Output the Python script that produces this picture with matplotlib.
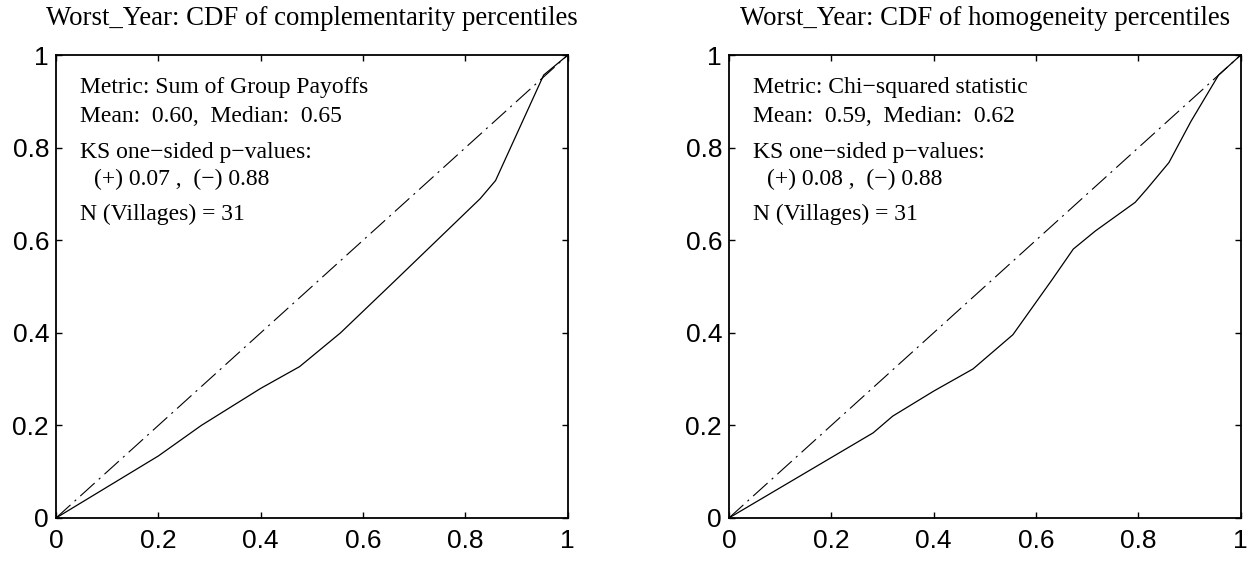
import numpy as np
import matplotlib
matplotlib.use('Agg')
import matplotlib.pyplot as plt

# tick labels
ticks = [0, 0.2, 0.4, 0.6, 0.8, 1]
tick_labels = ['0', '0.2', '0.4', '0.6', '0.8', '1']

# left panel: complementarity
comp_x = [0, 0.2, 0.284, 0.4, 0.476, 0.556, 0.66, 0.829, 0.859, 0.953, 1.0]
comp_y = [0, 0.134, 0.2, 0.28, 0.327, 0.4, 0.51, 0.69, 0.729, 0.957, 1.0]

# right panel: homogeneity
homo_x = [0, 0.282, 0.32, 0.4, 0.477, 0.555, 0.631, 0.673, 0.716, 0.794, 0.817, 0.86, 0.903, 0.957, 1.0]
homo_y = [0, 0.184, 0.22, 0.274, 0.322, 0.396, 0.514, 0.581, 0.62, 0.682, 0.711, 0.768, 0.857, 0.957, 1.0]

titles = ['Worst_Year: CDF of complementarity percentiles',
          'Worst_Year: CDF of homogeneity percentiles']
metrics = ['Metric: Sum of Group Payoffs', 'Metric: Chi\u2212squared statistic']
means = ['Mean:  0.60,  Median:  0.65', 'Mean:  0.59,  Median:  0.62']
pvals = ['(+) 0.07 ,  (\u2212) 0.88', '(+) 0.08 ,  (\u2212) 0.88']
n_text = 'N (Villages) = 31'

plt.rcParams['lines.scale_dashes'] = False
serif = ['Liberation Serif', 'DejaVu Serif']
sans = ['Liberation Sans Narrow', 'Liberation Sans', 'DejaVu Sans']

fig = plt.figure(figsize=(12.54, 5.63), dpi=100)
rects = [[0.0447, 0.080, 0.408, 0.822], [0.5813, 0.080, 0.408, 0.822]]
series = [(comp_x, comp_y), (homo_x, homo_y)]

for k in range(2):
    ax = fig.add_axes(rects[k])
    xs, ys = series[k]
    ax.plot([0, 1], [0, 1], color='black', lw=0.8, dashes=(14, 4, 1.5, 4))
    ax.plot(xs, ys, color='black', lw=0.9)
    ax.set_xlim(0, 1)
    ax.set_ylim(0, 1)
    ax.set_xticks(ticks)
    ax.set_yticks(ticks)
    ax.set_xticklabels(tick_labels, family=sans, fontsize=19)
    ax.set_yticklabels(tick_labels, family=sans, fontsize=19)
    ax.tick_params(direction='in', length=4, width=1, top=True, right=True)
    ax.tick_params(axis='x', pad=8)
    ax.tick_params(axis='y', pad=5)
    for s in ax.spines.values():
        s.set_linewidth(1.3)
    ax.set_title(titles[k], family=serif, fontsize=19.3, pad=22)
    fs = 17
    ax.text(0.047, 0.93, metrics[k], family=serif, fontsize=fs, va='center')
    ax.text(0.047, 0.868, means[k], family=serif, fontsize=fs, va='center')
    ax.text(0.047, 0.79, 'KS one\u2212sided p\u2212values:', family=serif, fontsize=fs, va='center')
    ax.text(0.075, 0.732, pvals[k], family=serif, fontsize=fs, va='center')
    ax.text(0.047, 0.655, n_text, family=serif, fontsize=fs, va='center')

fig.savefig('out.png', dpi=100)
